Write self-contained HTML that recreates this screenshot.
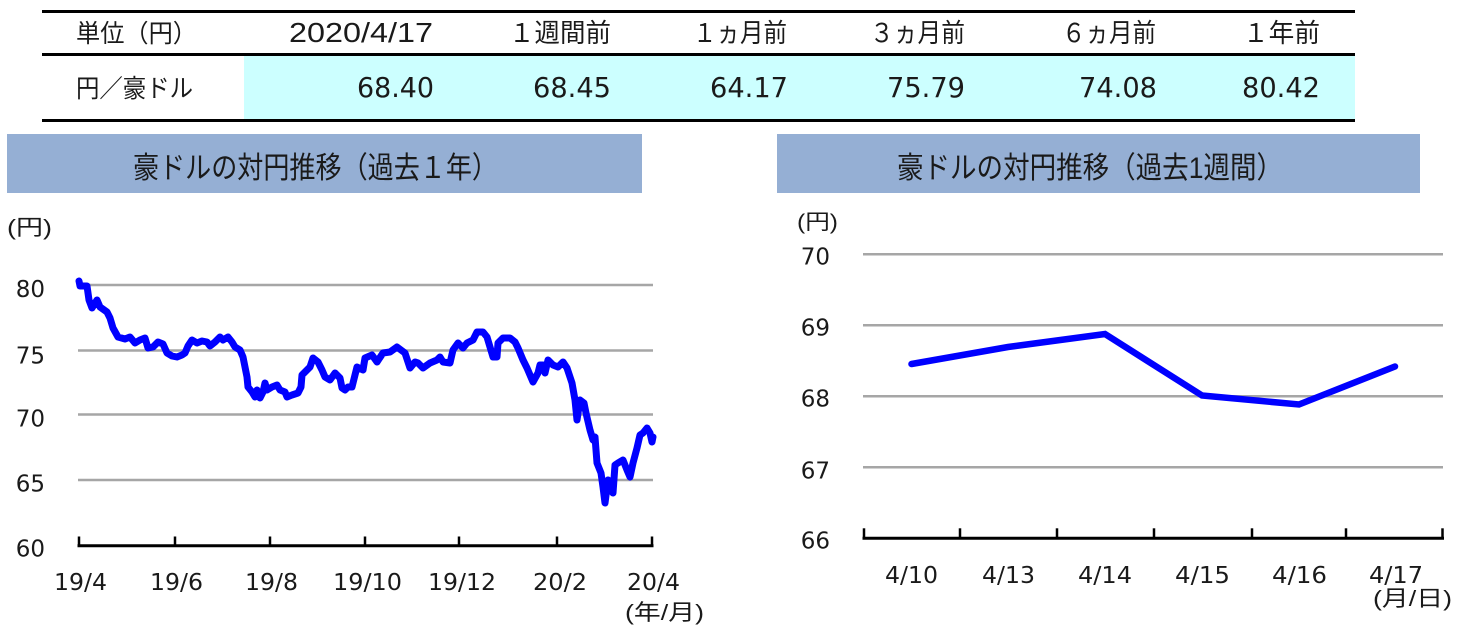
<!DOCTYPE html>
<html>
<head>
<meta charset="utf-8">
<style>
  html, body { margin: 0; padding: 0; background: #ffffff; }
  body { width: 1461px; height: 629px; overflow: hidden; }
  svg { display: block; }
  .cjk { font-family: "Liberation Sans", "Noto Sans CJK JP", sans-serif; }
  .num { font-family: "DejaVu Sans", "Liberation Sans", sans-serif; }
  .lat { font-family: "Liberation Sans", "Noto Sans CJK JP", sans-serif; }
</style>
</head>
<body>
<svg width="1461" height="629" viewBox="0 0 1461 629" xmlns="http://www.w3.org/2000/svg">
  <rect x="0" y="0" width="1461" height="629" fill="#ffffff"/>

  <!-- ===== Table ===== -->
  <rect x="244" y="55" width="1111" height="64" fill="#ccffff"/>
  <rect x="42" y="10" width="1313" height="3" fill="#000"/>
  <rect x="42" y="53" width="1313" height="3" fill="#000"/>
  <rect x="42" y="119" width="1313" height="3" fill="#000"/>

  <g fill="#1a1a1a">
    <text class="cjk" x="76" y="42" font-size="25" textLength="121" lengthAdjust="spacingAndGlyphs">単位（円）</text>
    <text class="lat" x="289" y="42" font-size="28" textLength="144" lengthAdjust="spacingAndGlyphs">2020/4/17</text>
    <text class="cjk" x="509" y="42" font-size="26" textLength="102" lengthAdjust="spacingAndGlyphs">１週間前</text>
    <text class="cjk" x="693" y="42" font-size="26" textLength="94" lengthAdjust="spacingAndGlyphs">１ヵ月前</text>
    <text class="cjk" x="870" y="42" font-size="26" textLength="95" lengthAdjust="spacingAndGlyphs">３ヵ月前</text>
    <text class="cjk" x="1062" y="42" font-size="26" textLength="94" lengthAdjust="spacingAndGlyphs">６ヵ月前</text>
    <text class="cjk" x="1243" y="42" font-size="26" textLength="77" lengthAdjust="spacingAndGlyphs">１年前</text>

    <text class="cjk" x="76" y="97" font-size="25" textLength="117" lengthAdjust="spacingAndGlyphs">円／豪ドル</text>
    <text class="num" x="357" y="97" font-size="28" textLength="77" lengthAdjust="spacingAndGlyphs">68.40</text>
    <text class="num" x="533" y="97" font-size="28" textLength="78" lengthAdjust="spacingAndGlyphs">68.45</text>
    <text class="num" x="710" y="97" font-size="28" textLength="78" lengthAdjust="spacingAndGlyphs">64.17</text>
    <text class="num" x="887" y="97" font-size="28" textLength="78" lengthAdjust="spacingAndGlyphs">75.79</text>
    <text class="num" x="1079" y="97" font-size="28" textLength="78" lengthAdjust="spacingAndGlyphs">74.08</text>
    <text class="num" x="1242" y="97" font-size="28" textLength="78" lengthAdjust="spacingAndGlyphs">80.42</text>
  </g>

  <!-- ===== Title bars ===== -->
  <rect x="7" y="134" width="635" height="59" fill="#95afd4"/>
  <rect x="777" y="134" width="643" height="59" fill="#95afd4"/>
  <text class="cjk" x="133" y="178" font-size="30" fill="#1a1a1a" textLength="365" lengthAdjust="spacingAndGlyphs">豪ドルの対円推移（過去１年）</text>
  <text class="cjk" x="897" y="178" font-size="30" fill="#1a1a1a" textLength="386" lengthAdjust="spacingAndGlyphs">豪ドルの対円推移（過去1週間）</text>

  <!-- ===== Left chart ===== -->
  <g stroke="#a6a6a6" stroke-width="2.5">
    <line x1="78" y1="285" x2="653" y2="285"/>
    <line x1="78" y1="350.5" x2="653" y2="350.5"/>
    <line x1="78" y1="414.5" x2="653" y2="414.5"/>
    <line x1="78" y1="480" x2="653" y2="480"/>
  </g>
  <g stroke="#000" stroke-width="3">
    <line x1="77.5" y1="545.7" x2="653.5" y2="545.7"/>
  </g>
  <g stroke="#000" stroke-width="2.5">
    <line x1="79" y1="536.5" x2="79" y2="546"/>
    <line x1="175" y1="536.5" x2="175" y2="546"/>
    <line x1="270" y1="536.5" x2="270" y2="546"/>
    <line x1="365" y1="536.5" x2="365" y2="546"/>
    <line x1="459" y1="536.5" x2="459" y2="546"/>
    <line x1="557" y1="536.5" x2="557" y2="546"/>
    <line x1="652" y1="536.5" x2="652" y2="546"/>
  </g>
  <g fill="#1a1a1a" class="num" font-size="23">
    <text x="45" y="297" text-anchor="end">80</text>
    <text x="45" y="363.5" text-anchor="end">75</text>
    <text x="45" y="426.5" text-anchor="end">70</text>
    <text x="45" y="491.5" text-anchor="end">65</text>
    <text x="45" y="556.5" text-anchor="end">60</text>
  </g>
  <g fill="#1a1a1a" class="num" font-size="23">
    <text x="54" y="590" textLength="53" lengthAdjust="spacingAndGlyphs">19/4</text>
    <text x="150" y="590" textLength="53" lengthAdjust="spacingAndGlyphs">19/6</text>
    <text x="245" y="590" textLength="53" lengthAdjust="spacingAndGlyphs">19/8</text>
    <text x="333" y="590" textLength="69" lengthAdjust="spacingAndGlyphs">19/10</text>
    <text x="428" y="590" textLength="68" lengthAdjust="spacingAndGlyphs">19/12</text>
    <text x="533" y="590" textLength="54" lengthAdjust="spacingAndGlyphs">20/2</text>
    <text x="627" y="590" textLength="53" lengthAdjust="spacingAndGlyphs">20/4</text>
  </g>
  <text class="cjk" x="7" y="235" font-size="22" fill="#1a1a1a" textLength="45" lengthAdjust="spacingAndGlyphs">(円)</text>
  <text class="cjk" x="625" y="620" font-size="22" fill="#1a1a1a" textLength="79" lengthAdjust="spacingAndGlyphs">(年/月)</text>

  <polyline fill="none" stroke="#0000ff" stroke-width="7" stroke-linejoin="round" stroke-linecap="round"
    points="79,281 80,286 87,286 89,300 92,308 97,300 100,307 107,312 110,318 113,328 118,337 125,339 130,337 135,343 140,340 145,338 148,348 153,347 158,342 163,344 167,353 172,356 177,357 182,355 185,353 188,346 192,340 197,343 202,341 207,342 210,346 215,342 220,337 223,340 228,337 232,342 235,347 240,350 243,357 247,377 248,387 252,392 255,397 257,390 260,398 263,392 265,383 267,390 272,387 277,385 280,390 285,392 287,397 292,395 298,393 301,387 302,375 307,370 310,367 313,358 318,362 322,370 325,377 330,380 335,373 340,378 342,388 345,390 348,387 352,387 357,367 363,370 365,358 372,355 377,362 383,353 390,352 397,347 405,353 410,368 415,362 418,363 423,368 430,363 437,360 440,357 443,362 450,363 453,350 458,343 463,348 467,343 473,340 477,332 483,332 487,337 490,347 493,357 497,357 498,343 503,338 510,338 515,342 518,348 523,360 527,368 533,382 538,373 540,365 543,365 545,373 548,360 553,365 558,367 563,362 567,368 572,383 575,400 577,420 580,400 584,403 586,413 590,430 593,440 595,437 597,463 601,473 603,487 605,503 608,480 611,490 613,493 615,465 618,463 623,460 627,470 630,477 633,463 637,448 640,435 643,433 647,428 650,433 652,442 653,437"/>

  <!-- ===== Right chart ===== -->
  <g stroke="#a6a6a6" stroke-width="2.5">
    <line x1="863" y1="254.3" x2="1443" y2="254.3"/>
    <line x1="863" y1="325.3" x2="1443" y2="325.3"/>
    <line x1="863" y1="396.3" x2="1443" y2="396.3"/>
    <line x1="863" y1="467.3" x2="1443" y2="467.3"/>
  </g>
  <line x1="862.5" y1="538.3" x2="1444" y2="538.3" stroke="#000" stroke-width="3"/>
  <g stroke="#000" stroke-width="2.5">
    <line x1="864" y1="528.3" x2="864" y2="539"/>
    <line x1="960" y1="528.3" x2="960" y2="539"/>
    <line x1="1057" y1="528.3" x2="1057" y2="539"/>
    <line x1="1154" y1="528.3" x2="1154" y2="539"/>
    <line x1="1252" y1="528.3" x2="1252" y2="539"/>
    <line x1="1346" y1="528.3" x2="1346" y2="539"/>
    <line x1="1442.5" y1="528.3" x2="1442.5" y2="539"/>
  </g>
  <g fill="#1a1a1a" class="num" font-size="23">
    <text x="830" y="264.5" text-anchor="end">70</text>
    <text x="830" y="335.5" text-anchor="end">69</text>
    <text x="830" y="406.5" text-anchor="end">68</text>
    <text x="830" y="478.5" text-anchor="end">67</text>
    <text x="830" y="548.5" text-anchor="end">66</text>
  </g>
  <g fill="#1a1a1a" class="num" font-size="23">
    <text x="885" y="583" textLength="53" lengthAdjust="spacingAndGlyphs">4/10</text>
    <text x="982" y="583" textLength="53" lengthAdjust="spacingAndGlyphs">4/13</text>
    <text x="1078" y="583" textLength="54" lengthAdjust="spacingAndGlyphs">4/14</text>
    <text x="1175" y="583" textLength="55" lengthAdjust="spacingAndGlyphs">4/15</text>
    <text x="1272" y="583" textLength="55" lengthAdjust="spacingAndGlyphs">4/16</text>
    <text x="1369" y="583" textLength="54" lengthAdjust="spacingAndGlyphs">4/17</text>
  </g>
  <text class="cjk" x="797" y="229" font-size="21" fill="#1a1a1a" textLength="41" lengthAdjust="spacingAndGlyphs">(円)</text>
  <text class="cjk" x="1373" y="606" font-size="22" fill="#1a1a1a" textLength="79" lengthAdjust="spacingAndGlyphs">(月/日)</text>

  <polyline fill="none" stroke="#0000ff" stroke-width="6.5" stroke-linejoin="miter" stroke-linecap="round"
    points="911.5,364 1008,347 1105,334 1202,395.5 1299,404.5 1395,366.5"/>
</svg>
</body>
</html>
